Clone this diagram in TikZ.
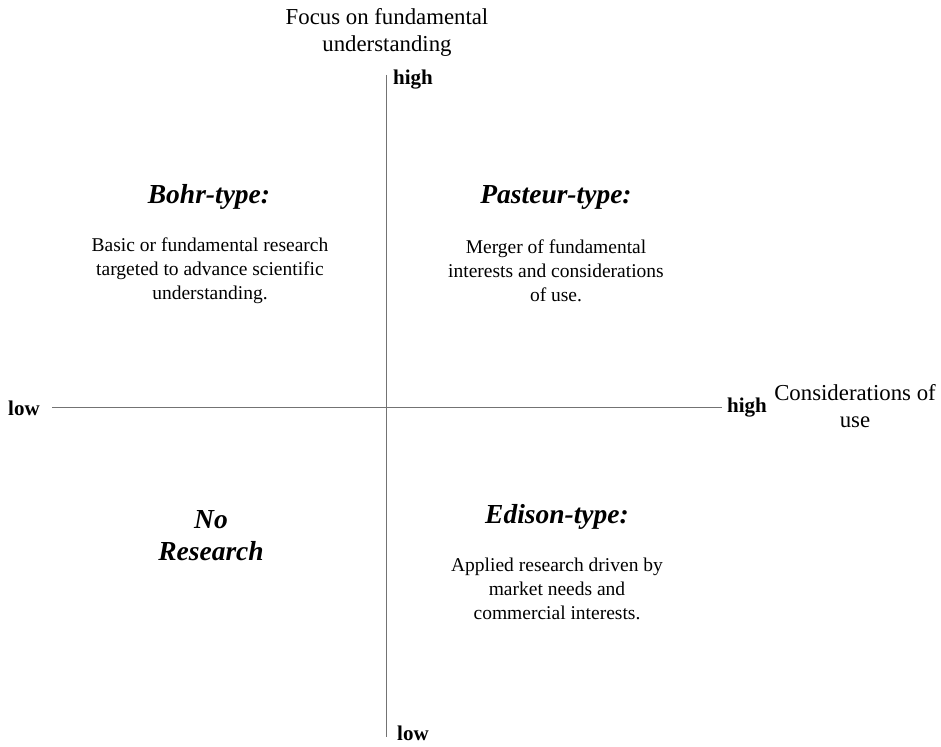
\documentclass[tikz,border=0pt]{standalone}
\usepackage{fontspec}
\setmainfont{Liberation Serif}
\begin{document}
\begin{tikzpicture}[x=1pt,y=-1pt,
  axis/.style={draw=black!55, line width=0.9pt},
  axislab/.style={inner sep=0pt, font=\fontsize{22.8}{27}\selectfont},
  endlab/.style={inner sep=0pt, font=\fontsize{21}{24}\selectfont\bfseries},
  qtitle/.style={inner sep=0pt, align=center, font=\fontsize{27.5}{32}\selectfont\bfseries\itshape},
  qbody/.style={inner sep=0pt, align=center, font=\fontsize{19.5}{24}\selectfont}]
\useasboundingbox (0,0) rectangle (941,746);
\coordinate (vtop) at (386,75);
\coordinate (vbot) at (386,737);
\coordinate (hleft) at (52,407);
\coordinate (hright) at (722,407);
\draw[axis] (vtop) -- (vbot);
\draw[axis] (hleft) -- (hright);
\node[axislab, align=center] (yname) at (387,32) {Focus on fundamental\\understanding};
\node[axislab, align=center] (xname) at (855,406) {Considerations of\\use};
\node[endlab, anchor=west] (yhigh) at (393,80) {high};
\node[endlab, anchor=west] (ylow) at (397,733) {low};
\node[endlab, anchor=west] (xlow) at (8,408) {low};
\node[endlab, anchor=west] (xhigh) at (727,408) {high};
\node[qtitle] (bohr) at (209,197) {Bohr-type:};
\node[qbody] (bohrtxt) at (210,271) {Basic or fundamental research\\targeted to advance scientific\\understanding.};
\node[qtitle] (pasteur) at (556,197) {Pasteur-type:};
\node[qbody] (pasteurtxt) at (556,271) {Merger of fundamental\\interests and considerations\\of use.};
\node[qtitle] (none) at (211,536) {No\\Research};
\node[qtitle] (edison) at (557,517) {Edison-type:};
\node[qbody] (edisontxt) at (557,589) {Applied research driven by\\market needs and\\commercial interests.};
\end{tikzpicture}
\end{document}
